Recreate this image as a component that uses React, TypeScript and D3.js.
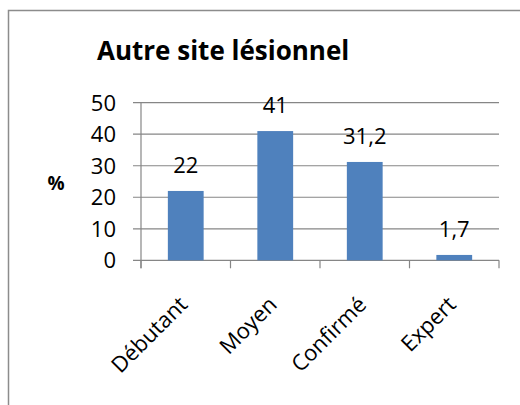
import React from 'react';
import * as d3 from 'd3';

const categories = ['Débutant', 'Moyen', 'Confirmé', 'Expert'];
const values = [22, 41, 31.2, 1.7];
const valueLabels = ['22', '41', '31,2', '1,7'];
const yTicks = [0, 10, 20, 30, 40, 50];

const width = 520;
const height = 405;
const plot = { left: 141, right: 499, top: 102.7, bottom: 260.3 };
const font = '"Open Sans", "Liberation Sans", sans-serif';
const gray = '#868686';
const barColor = '#4f81bd';

export default function App() {
  const x = d3
    .scaleBand()
    .domain(categories)
    .range([plot.left, plot.right])
    .paddingInner(0.6)
    .paddingOuter(0.3);

  const y = d3.scaleLinear().domain([0, 50]).range([plot.bottom, plot.top]);

  // category boundaries for the tick marks on the x axis
  const step = (plot.right - plot.left) / categories.length;
  const bounds = d3.range(categories.length + 1).map((i) => plot.left + i * step);

  return (
    <svg
      width={width}
      height={height}
      style={{ position: 'absolute', left: 0, top: 0, background: '#fff' }}
      fontFamily={font}
    >
      <rect x={8.5} y={10.5} width={width} height={height} fill="none" stroke="#8c8c8c" strokeWidth={1.5} />

      <text x={97} y={60} fontSize={26} fontWeight="bold" fill="#000">
        Autre site lésionnel
      </text>

      {/* gridlines and y ticks */}
      {yTicks.map((t) => (
        <g key={t}>
          <line x1={plot.left - 8} x2={plot.right} y1={y(t)} y2={y(t)} stroke={gray} strokeWidth={1.2} />
          <text x={116} y={y(t)} dy="0.36em" textAnchor="end" fontSize={22} fill="#000">
            {t}
          </text>
        </g>
      ))}

      <line x1={plot.left} x2={plot.left} y1={plot.top} y2={plot.bottom + 8} stroke={gray} strokeWidth={1.2} />
      {bounds.map((b, i) => (
        <line key={i} x1={b} x2={b} y1={plot.bottom} y2={plot.bottom + 8} stroke={gray} strokeWidth={1.2} />
      ))}

      <text x={56} y={183} dy="0.36em" textAnchor="middle" fontSize={19} fontWeight="bold" fill="#000">
        %
      </text>

      {values.map((v, i) => (
        <g key={categories[i]}>
          <rect
            x={x(categories[i])}
            y={y(v)}
            width={x.bandwidth()}
            height={plot.bottom - y(v)}
            fill={barColor}
          />
          <text
            x={(x(categories[i]) as number) + x.bandwidth() / 2}
            y={y(v) - 18}
            textAnchor="middle"
            fontSize={22}
            fill="#000"
          >
            {valueLabels[i]}
          </text>
        </g>
      ))}

      {categories.map((c) => {
        const cx = (x(c) as number) + x.bandwidth() / 2 + 3;
        const cy = 306;
        return (
          <text
            key={c}
            x={cx}
            y={cy}
            textAnchor="end"
            fontSize={22}
            fill="#000"
            transform={`rotate(-45, ${cx}, ${cy})`}
          >
            {c}
          </text>
        );
      })}
    </svg>
  );
}
